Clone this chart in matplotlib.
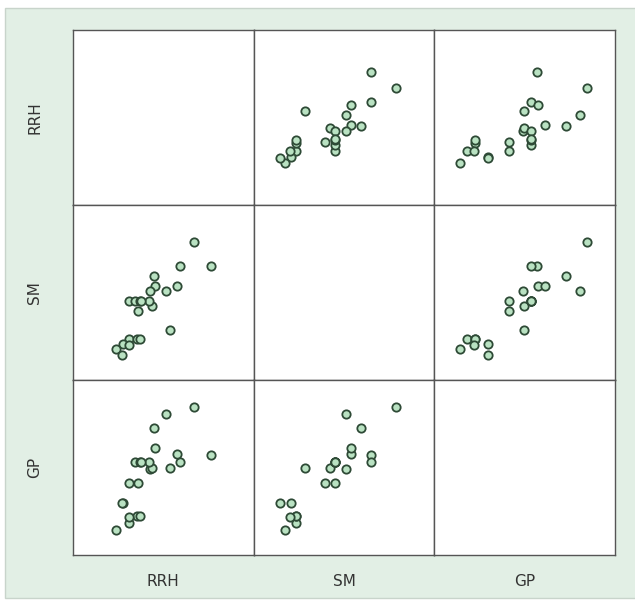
import matplotlib.pyplot as plt
from matplotlib.patches import Rectangle

# Datos (escala 0-100)
variables = ["RRH", "SM", "GP"]
rrh = [66.8, 76.2, 59.0, 57.3, 51.5, 53.7, 44.9, 45.6, 42.5, 44.0, 42.1, 35.9,
       30.8, 34.4, 37.2, 37.9, 30.8, 35.3, 37.0, 27.5, 31.1, 23.8, 27.1]
sm = [79.0, 65.1, 65.1, 53.9, 50.9, 28.6, 59.6, 53.9, 50.9, 42.3, 45.1, 39.4,
      45.1, 45.1, 45.1, 45.1, 23.2, 23.2, 23.2, 20.4, 20.0, 17.5, 14.3]
gp = [84.4, 57.1, 53.3, 57.5, 80.6, 49.5, 72.8, 61.0, 49.0, 49.5, 53.3, 41.3,
      41.3, 53.3, 53.3, 53.3, 18.1, 22.3, 22.3, 29.9, 21.9, 14.3, 29.9]
values = [rrh, sm, gp]

fig = plt.figure(figsize=(6.35, 6.0), dpi=100)
fig.patch.set_facecolor("white")

# fondo verde claro
fondo = Rectangle((5 / 635, 0.003), 1.0, 1 - 8 / 600 - 0.003,
                  transform=fig.transFigure, facecolor="#e2efe5",
                  edgecolor="#c8d4cb", linewidth=1, zorder=-10)
fig.add_artist(fondo)

axes = fig.subplots(3, 3)
fig.subplots_adjust(left=73 / 635, right=615 / 635, top=1 - 30 / 600,
                    bottom=1 - 555 / 600, wspace=0, hspace=0)

for i in range(3):
    for j in range(3):
        ax = axes[i, j]
        ax.set_facecolor("white")
        ax.set_xlim(0, 100)
        ax.set_ylim(0, 100)
        ax.set_xticks([])
        ax.set_yticks([])
        for s in ax.spines.values():
            s.set_color("#555555")
            s.set_linewidth(1)
        if i != j:
            ax.plot(values[j], values[i], "o", markersize=6,
                    markerfacecolor="#b9e2c2", markeredgecolor="#2e4a36",
                    markeredgewidth=1.3, linestyle="none")
        if j == 0:
            ax.set_ylabel(variables[i], fontsize=11, color="#333333", labelpad=22)
        if i == 2:
            ax.set_xlabel(variables[j], fontsize=11, color="#333333", labelpad=14)

plt.savefig("out.png", dpi=100)
